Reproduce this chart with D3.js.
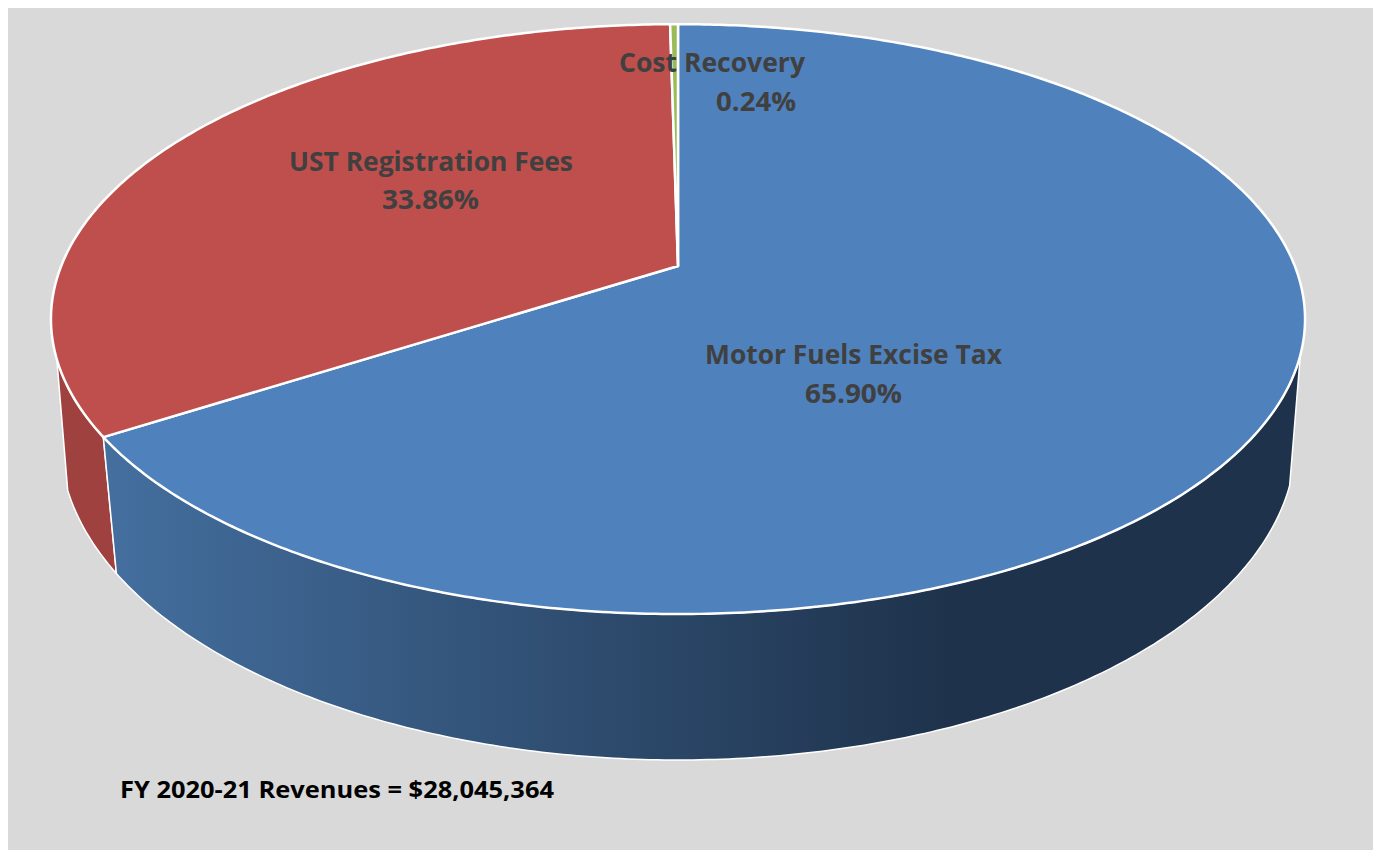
<!DOCTYPE html>
<html>
<head>
<meta charset="utf-8">
<script src="https://cdn.jsdelivr.net/npm/d3@7"></script>
<style>
  html, body { margin: 0; padding: 0; background: #fff; overflow: hidden; }
  text { font-family: "Open Sans", "Noto Sans", sans-serif; font-weight: 700; }
</style>
</head>
<body>
<div id="chart"></div>
<script>
// values
var categories = ["Motor Fuels Excise Tax", "UST Registration Fees", "Cost Recovery"];
var shares = [65.90, 33.86, 0.24];
var shareLabels = ["65.90%", "33.86%", "0.24%"];
var sliceColors = ["#4f81bd", "#be4f4c", "#9bbb59"];
var footer = "FY 2020-21 Revenues = $28,045,364";

var width = 1373, height = 850;

var svg = d3.select("#chart")
  .append("svg")
    .attr("width", width)
    .attr("height", height)
    .style("display", "block");

svg.append("rect")
  .attr("x", 8).attr("y", 8)
  .attr("width", width - 8).attr("height", height - 8)
  .attr("fill", "#d9d9d9");

// the two discs of the 3D pie, each one a circle seen in perspective
var topDisc = {cx: 678, cy: 266, a: 616.8, b: 285.4, k: 0.18};
var bottomDisc = {cx: 678, cy: 388.8, a: 610, b: 311.8, k: 0.16};

function project(disc, angle) {
  var x = Math.sin(angle), y = -Math.cos(angle);
  var d = 1 - disc.k * y;
  return [disc.cx + disc.a * x / d, disc.cy + disc.b * y / d];
}

function arcPoints(disc, a0, a1) {
  var n = Math.max(2, Math.ceil(Math.abs(a1 - a0) / 0.01));
  return d3.range(n + 1).map(function (i) {
    return project(disc, a0 + (a1 - a0) * i / n);
  });
}

var line = d3.line();

var slices = d3.pie().sort(null).value(function (d) { return d; })(shares);

// gradient along the side wall of the big slice
var grad = svg.append("defs").append("linearGradient")
  .attr("id", "wallBlue")
  .attr("gradientUnits", "userSpaceOnUse")
  .attr("x1", 100).attr("y1", 0)
  .attr("x2", 950).attr("y2", 0);
grad.append("stop").attr("offset", 0).attr("stop-color", "#446f9f");
grad.append("stop").attr("offset", 1).attr("stop-color", "#1e324b");

// where the wall comes out from behind the top disc
var wallRight = 107.2 * Math.PI / 180;
var wallLeft = 252 * Math.PI / 180;

function wallPath(a0, a1) {
  return line(arcPoints(topDisc, a0, a1).concat(arcPoints(bottomDisc, a1, a0))) + "Z";
}

svg.append("path")
  .attr("d", wallPath(slices[0].endAngle, wallLeft))
  .attr("fill", "#9f413e")
  .attr("stroke", "#fff").attr("stroke-width", 1.5).attr("stroke-linejoin", "round");

svg.append("path")
  .attr("d", wallPath(wallRight, slices[0].endAngle))
  .attr("fill", "url(#wallBlue)")
  .attr("stroke", "#fff").attr("stroke-width", 1.5).attr("stroke-linejoin", "round");

// top faces
svg.append("g")
  .selectAll("path")
  .data(slices)
  .enter()
  .append("path")
    .attr("d", function (d) {
      var pts = arcPoints(topDisc, d.startAngle, d.endAngle);
      return line([[topDisc.cx, topDisc.cy]].concat(pts)) + "Z";
    })
    .attr("fill", function (d, i) { return sliceColors[i]; })
    .attr("stroke", "#fff")
    .attr("stroke-width", 2.5)
    .attr("stroke-linejoin", "round");

// labels: x is the centre, y the baselines, w the drawn widths
var labelPos = [
  {x: 853.5, y: 364, w: 297, x2: 853.5, y2: 403, w2: 97},
  {x: 431, y: 171, w: 284, x2: 430.5, y2: 209, w2: 97},
  {x: 712, y: 72, w: 186, x2: 756, y2: 111, w2: 80}
];

categories.forEach(function (name, i) {
  var p = labelPos[i];
  svg.append("text")
    .attr("x", p.x).attr("y", p.y)
    .attr("text-anchor", "middle")
    .attr("font-size", 26)
    .attr("textLength", p.w)
    .attr("lengthAdjust", "spacingAndGlyphs")
    .attr("fill", "#404040")
    .text(name);
  svg.append("text")
    .attr("x", p.x2).attr("y", p.y2)
    .attr("text-anchor", "middle")
    .attr("font-size", 26)
    .attr("textLength", p.w2)
    .attr("lengthAdjust", "spacingAndGlyphs")
    .attr("fill", "#404040")
    .text(shareLabels[i]);
});

svg.append("text")
  .attr("x", 120).attr("y", 798)
  .attr("font-size", 24)
  .attr("textLength", 434)
  .attr("lengthAdjust", "spacingAndGlyphs")
  .attr("fill", "#000")
  .text(footer);
</script>
</body>
</html>
